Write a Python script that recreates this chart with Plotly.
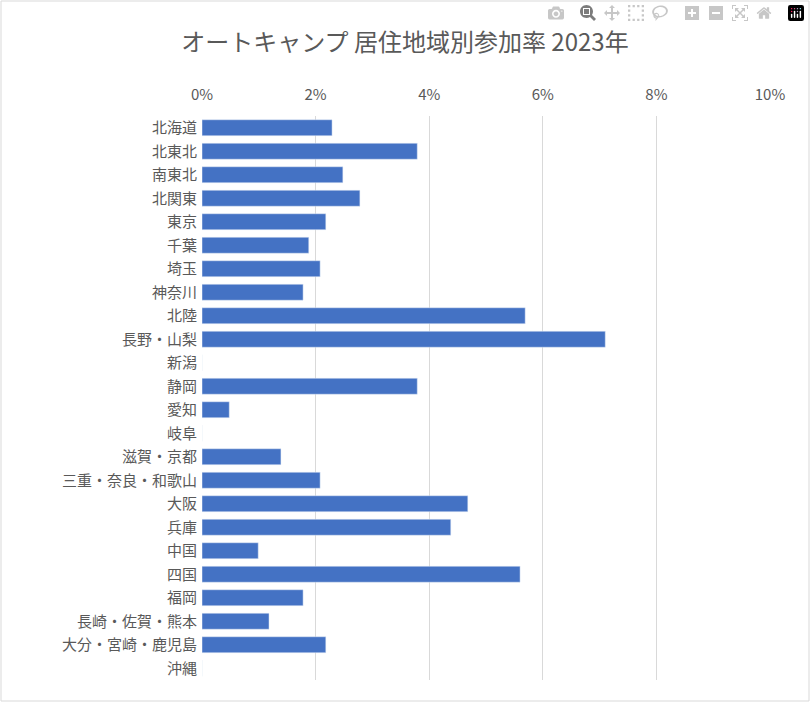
import plotly.graph_objects as go

regions = ["北海道","北東北","南東北","北関東","東京","千葉","埼玉","神奈川","北陸","長野・山梨","新潟","静岡","愛知","岐阜","滋賀・京都","三重・奈良・和歌山","大阪","兵庫","中国","四国","福岡","長崎・佐賀・熊本","大分・宮崎・鹿児島","沖縄"]
rates = [0.0229,0.0379,0.0248,0.0278,0.0218,0.0188,0.0208,0.0178,0.0569,0.0710,0,0.0379,0.0048,0,0.0139,0.0208,0.0468,0.0438,0.0099,0.0560,0.0178,0.0118,0.0218,0]

fig = go.Figure(go.Bar(x=rates, y=regions, orientation="h", marker_color="#4472C4", width=0.68))
fig.update_layout(
    width=810, height=702, paper_bgcolor="white", plot_bgcolor="white",
    margin=dict(l=202, r=40, t=116, b=22),
    title=dict(text="オートキャンプ 居住地域別参加率 2023年", x=0.5, xanchor="center", y=0.94, yanchor="middle",
               font=dict(family="Noto Sans CJK JP", size=24, color="#595959")),
    font=dict(family="Noto Sans CJK JP", size=15, color="#595959"),
    xaxis=dict(side="top", range=[0,0.1], tickvals=[0,0.02,0.04,0.06,0.08,0.1], tickformat=".0%",
               showgrid=True, gridcolor="#D9D9D9", gridwidth=1, zeroline=False, ticks="", showline=False,
               ticklabelstandoff=12),
    yaxis=dict(autorange="reversed", ticks="", showline=False, showgrid=False, ticklabelstandoff=4),
    showlegend=False,
    shapes=[dict(type="rect", xref="paper", yref="paper", x0=-201/568, x1=1+39/568, y0=-21/564, y1=1+115/564,
                 line=dict(color="#D9D9D9", width=1))],
)
fig.write_html("out.html", post_script="document.body.style.margin='0';document.body.style.overflow='hidden';")
